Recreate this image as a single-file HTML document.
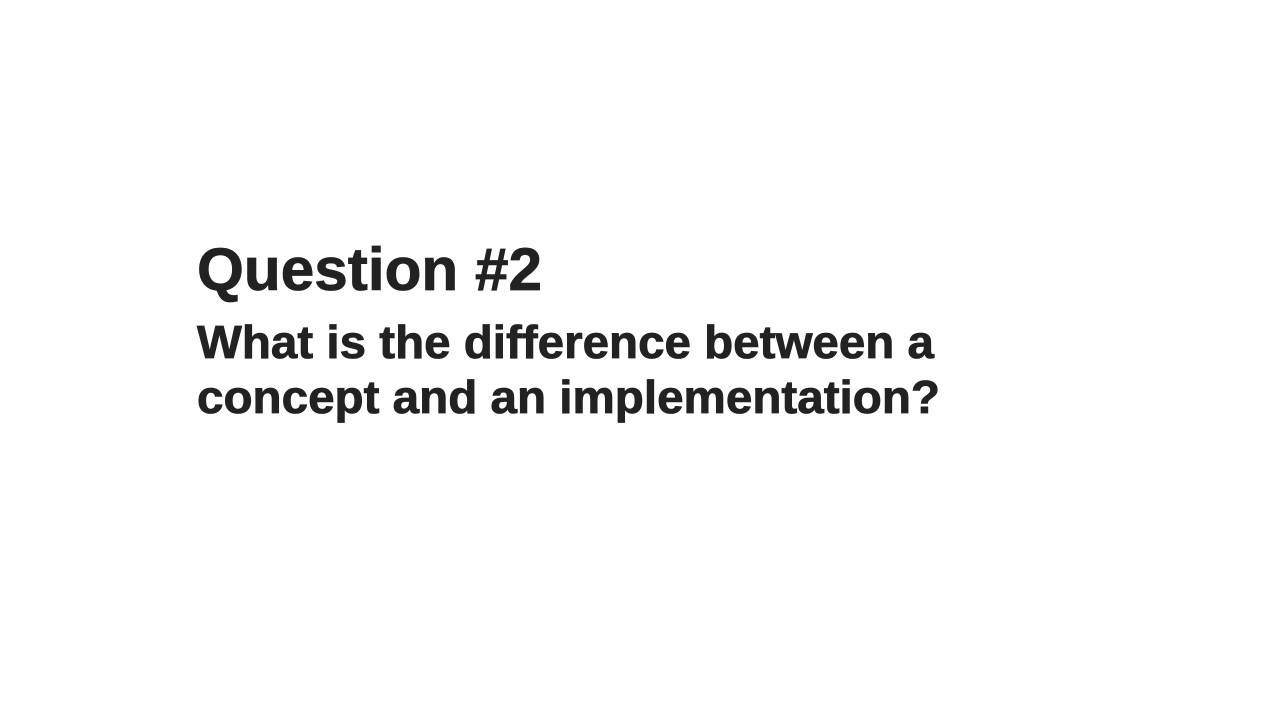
<!DOCTYPE html>
<html><head><meta charset="utf-8"><style>
html,body{margin:0;padding:0;background:#fff;}
svg{display:block;}
text{font-family:"Liberation Sans",sans-serif;font-weight:bold;fill:#222;stroke:#222;stroke-width:0.8;}
</style></head><body>
<svg width="1280" height="720" viewBox="0 0 1280 720">
<rect width="1280" height="720" fill="#fefefe"/>
<text x="197" y="290" font-size="60" textLength="345" lengthAdjust="spacingAndGlyphs">Question #2</text>
<text x="197" y="358" font-size="46" textLength="737" lengthAdjust="spacingAndGlyphs">What is the difference between a</text>
<text x="197" y="413" font-size="46" textLength="743" lengthAdjust="spacingAndGlyphs">concept and an implementation?</text>
</svg>
</body></html>
